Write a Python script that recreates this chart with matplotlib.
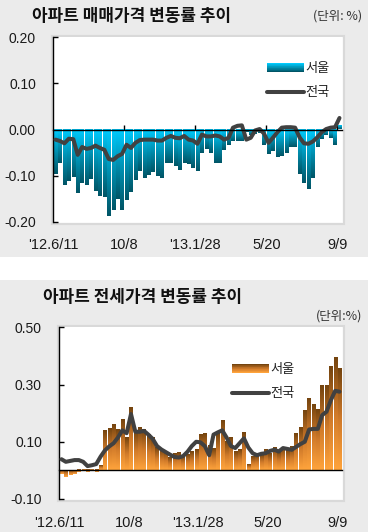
import numpy as np
import matplotlib
matplotlib.use("Agg")
import matplotlib.pyplot as plt
from matplotlib.colors import LinearSegmentedColormap
from matplotlib.patches import Rectangle
from matplotlib.lines import Line2D
from matplotlib.legend_handler import HandlerBase

plt.rcParams['font.family'] = ['Liberation Sans', 'Noto Sans CJK KR', 'DejaVu Sans']

# ---------------- data ----------------
x_tick_labels = ["'12.6/11", "10/8", "'13.1/28", "5/20", "9/9"]
x_tick_weeks = [0, 16, 32, 48, 64]

sale_title = "아파트 매매가격 변동률 추이"
jeonse_title = "아파트 전세가격 변동률 추이"
series_names = ["서울", "전국"]

sale_seoul = [-0.097, -0.073, -0.120, -0.112, -0.104, -0.138, -0.117, -0.121, -0.108, -0.134,
              -0.145, -0.147, -0.188, -0.175, -0.151, -0.175, -0.154, -0.136, -0.110, -0.091,
              -0.106, -0.099, -0.093, -0.101, -0.106, -0.073, -0.072, -0.080, -0.088, -0.072,
              -0.075, -0.083, -0.091, -0.051, -0.043, -0.050, -0.072, -0.073, -0.045, -0.034,
              -0.024, -0.025, -0.025, -0.006, -0.012, -0.009, -0.008, -0.033, -0.053, -0.046,
              -0.060, -0.057, -0.051, -0.038, -0.038, -0.096, -0.117, -0.130, -0.106, -0.038,
              -0.021, -0.011, -0.018, -0.033, 0.007]
sale_nation = [-0.022, -0.025, -0.030, -0.020, -0.021, -0.055, -0.038, -0.042, -0.040, -0.035,
               -0.040, -0.044, -0.064, -0.066, -0.058, -0.053, -0.033, -0.040, -0.029, -0.023,
               -0.022, -0.022, -0.022, -0.024, -0.024, -0.018, -0.014, -0.018, -0.019, -0.014,
               -0.022, -0.024, -0.031, -0.011, -0.015, -0.015, -0.013, -0.015, -0.022, -0.018,
               0.004, 0.008, 0.009, -0.022, -0.018, -0.002, 0.001, -0.009, -0.029, -0.018,
               -0.006, 0.004, 0.005, 0.005, 0.004, -0.017, -0.030, -0.031, -0.026, -0.017,
               -0.006, 0.001, 0.004, 0.005, 0.025]

jeonse_seoul = [-0.013, -0.024, -0.017, -0.012, -0.007, 0.003, -0.007, 0.001, -0.007, 0.015,
                0.138, 0.144, 0.158, 0.140, 0.176, 0.114, 0.220, 0.133, 0.147, 0.141,
                0.123, 0.115, 0.080, 0.071, 0.065, 0.045, 0.059, 0.061, 0.048, 0.053,
                0.065, 0.071, 0.123, 0.129, 0.085, 0.075, 0.128, 0.172, 0.100, 0.115,
                0.065, 0.071, 0.131, 0.018, 0.046, 0.050, 0.053, 0.071, 0.059, 0.077,
                0.065, 0.079, 0.071, 0.082, 0.126, 0.147, 0.207, 0.251, 0.228, 0.210,
                0.294, 0.297, 0.360, 0.394, 0.354]
jeonse_nation = [0.039, 0.030, 0.033, 0.036, 0.036, 0.030, 0.015, 0.018, 0.022, 0.048,
                 0.070, 0.084, 0.095, 0.115, 0.140, 0.130, 0.197, 0.135, 0.135, 0.138,
                 0.125, 0.110, 0.085, 0.073, 0.064, 0.055, 0.047, 0.045, 0.050, 0.065,
                 0.085, 0.100, 0.098, 0.085, 0.053, 0.125, 0.133, 0.140, 0.115, 0.085,
                 0.078, 0.095, 0.112, 0.080, 0.060, 0.053, 0.058, 0.060, 0.068, 0.072,
                 0.066, 0.078, 0.075, 0.072, 0.082, 0.092, 0.100, 0.143, 0.145, 0.145,
                 0.193, 0.205, 0.245, 0.278, 0.275]

sale_yticks = [-0.20, -0.10, 0.00, 0.10, 0.20]
jeonse_yticks = [-0.10, 0.10, 0.30, 0.50]

# ---------------- style ----------------
W, H = 368, 532
BG = '#ebebeb'
BORDER = '#d9d9d9'
LINE_C = '#414141'
cyan_cmap = LinearSegmentedColormap.from_list('cy', ['#005566', '#008fb0', '#00ccff'])
orange_cmap = LinearSegmentedColormap.from_list('or', ['#ffa43c', '#d07a2a', '#74440f'])

fig = plt.figure(figsize=(W / 100, H / 100), dpi=100)
fig.patch.set_facecolor(BG)

# white strip between the two panels
fig.add_artist(Rectangle((0, 1 - 280 / H), 1, 23 / H, transform=fig.transFigure,
                         facecolor='white', edgecolor='none', zorder=-10))


def px_axes(l, t, r, b):
    return [l / W, 1 - b / H, (r - l) / W, (b - t) / H]


class GradHandler(HandlerBase):
    def __init__(self, cmap, n=14):
        super().__init__()
        self.cmap = cmap
        self.n = n

    def create_artists(self, legend, orig_handle, xdescent, ydescent, width, height, fontsize, trans):
        arts = []
        for k in range(self.n):
            r = Rectangle((-xdescent, -ydescent + height * k / self.n), width, height / self.n + 0.3,
                          facecolor=self.cmap(k / (self.n - 1)), edgecolor='none', transform=trans)
            arts.append(r)
        return arts


def panel(rect_px, bars, line, yticks, ylim, cmap, title, title_xy, unit, unit_xy,
          leg_anchor, label_pad):
    l, t, r, b = rect_px
    # plot-area frame
    frame = Rectangle(((l - 1) / W, 1 - (b + 2) / H), (r - l + 3) / W, (b - t + 3) / H,
                      transform=fig.transFigure, facecolor='white', edgecolor=BORDER,
                      linewidth=1.6, zorder=-5)
    fig.add_artist(frame)
    ax = fig.add_axes(px_axes(l, t, r, b))
    ax.set_facecolor('white')
    n = len(bars)
    xs = np.arange(n) + 0.5
    cont = ax.bar(xs, bars, width=0.76, color='none', edgecolor='none', zorder=2)
    grad = np.linspace(0, 1, 128).reshape(-1, 1)
    for p in cont.patches:
        x0, y0 = p.get_x(), p.get_y()
        w, h = p.get_width(), p.get_height()
        ylo, yhi = min(y0, y0 + h), max(y0, y0 + h)
        ax.imshow(grad, extent=[x0, x0 + w, ylo, yhi], origin='lower', aspect='auto',
                  cmap=cmap, zorder=2, interpolation='bilinear')
    ax.plot(xs, line, color=LINE_C, lw=2.9, solid_capstyle='round', solid_joinstyle='round', zorder=4)
    ax.set_xlim(0, n)
    ax.set_ylim(*ylim)
    for s in ['top', 'right']:
        ax.spines[s].set_visible(False)
    ax.spines['left'].set_color('black')
    ax.spines['left'].set_linewidth(1.0)
    ax.spines['bottom'].set_position(('data', 0))
    ax.spines['bottom'].set_color('black')
    ax.spines['bottom'].set_linewidth(1.0)
    ax.spines['bottom'].set_zorder(5)
    ax.set_xticks(x_tick_weeks[1:])
    ax.set_xticklabels([])
    ax.tick_params(axis='x', direction='in', length=3.8, width=1.0, color='black')
    ax.set_yticks(yticks)
    ax.set_yticklabels([f"{v:.2f}" for v in yticks])
    ax.tick_params(axis='y', direction='in', length=3.8, width=1.0, pad=12.5,
                   labelsize=10, labelcolor='#1a1a1a')
    sec = ax.secondary_xaxis(0.0)
    sec.set_xticks(x_tick_weeks)
    sec.set_xticklabels(x_tick_labels)
    sec.tick_params(length=0, pad=label_pad, labelsize=10.5, labelcolor='#1a1a1a')
    sec.spines['bottom'].set_visible(False)
    # legend
    handles = [Rectangle((0, 0), 1, 1), Line2D([0], [0], color=LINE_C, lw=2.9, solid_capstyle='round')]
    leg = ax.legend(handles, series_names, loc='upper left', bbox_to_anchor=leg_anchor,
                    frameon=False, fontsize=9.5, handlelength=2.75, handleheight=0.65,
                    handletextpad=0.12, labelspacing=0.85, borderaxespad=0,
                    handler_map={Rectangle: GradHandler(cmap)})
    for txt in leg.get_texts():
        txt.set_family(['Noto Sans CJK KR'])
        txt.set_color('#222222')
    fig.text(title_xy[0] / W, 1 - title_xy[1] / H, title, fontsize=12.2, fontweight='bold',
             family=['Noto Sans CJK KR'], ha='left', va='center', color='#111111')
    fig.text(unit_xy[0] / W, 1 - unit_xy[1] / H, unit, fontsize=9, family=['Noto Sans CJK KR', 'Liberation Sans'],
             ha='right', va='center', color='#333333')
    return ax


ax1 = panel((53.3, 37.3, 341.7, 221.7), sale_seoul, sale_nation, sale_yticks, (-0.20, 0.20),
            cyan_cmap, sale_title, (32, 16), "(단위: %)", (362, 16),
            ((262 - 53.3) / 288.4, 1 - (57 - 37.3) / 184.4), 12)
ax2 = panel((59.3, 327.3, 341.7, 499.0), jeonse_seoul, jeonse_nation, jeonse_yticks, (-0.10, 0.50),
            orange_cmap, jeonse_title, (43, 297), "(단위:%)", (362, 316),
            ((227 - 59.3) / 282.4, 1 - (358 - 327.3) / 171.7), 12)

fig.savefig('out.png', dpi=100, facecolor=fig.get_facecolor())
